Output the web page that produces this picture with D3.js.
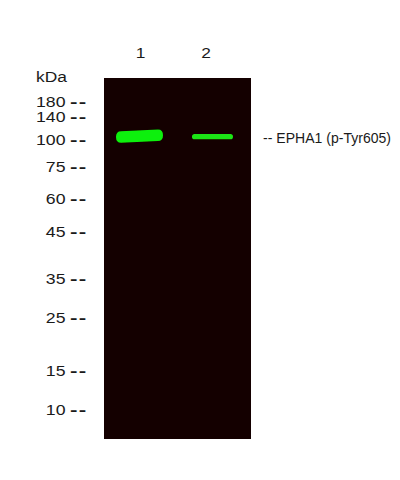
<!DOCTYPE html>
<html><head><meta charset="utf-8">
<script src="https://cdn.jsdelivr.net/npm/d3@7/dist/d3.min.js"></script>
<style>
html,body{margin:0;padding:0;background:#fff;}
svg{display:block;}
text{font-family:"Liberation Sans",Arial,sans-serif;fill:#1a1a1a;}
</style></head>
<body>
<svg id="c" width="400" height="480"></svg>
<script>
// ---- data ----
const markers = [180, 140, 100, 75, 60, 45, 35, 25, 15, 10];
const lanes = ["1", "2"];
const bandMW = [106, 105];
const bandIntensity = [1.0, 0.45];
const unitLabel = "kDa";
const targetLabel = "-- EPHA1 (p-Tyr605)";
const targetMW = 104;

const svg = d3.select("#c");

// migration scale (piecewise, calibrated to the marker ladder)
const y = d3.scaleLinear()
  .domain(markers)
  .range([101.5, 116.8, 139.5, 166, 198, 231, 278, 317, 370.5, 409]);

const gel = {x0: 104, x1: 251, y0: 78, y1: 439};

const laneX = d3.scalePoint().domain(lanes).range([139.5, 212.5]);
const labelX = d3.scalePoint().domain(lanes).range([140.5, 206]);
const thick = d3.scaleLinear().domain([0, 1]).range([0, 11.5]);
const wide = d3.scaleLinear().domain([0.45, 1]).range([41, 47]);

const defs = svg.append("defs");
defs.append("filter").attr("id", "blur").attr("x", "-20%").attr("y", "-100%").attr("width", "140%").attr("height", "300%")
  .append("feGaussianBlur").attr("stdDeviation", 0.7);

// gel
svg.append("rect").attr("x", gel.x0).attr("y", gel.y0)
  .attr("width", gel.x1 - gel.x0).attr("height", gel.y1 - gel.y0)
  .attr("fill", "#140000");

// bands
const bands = lanes.map((l, i) => ({lane: l, mw: bandMW[i], k: bandIntensity[i]}));
const g = svg.append("g").attr("filter", "url(#blur)");
bands.forEach((b, i) => {
  const cx = laneX(b.lane), cy = y(b.mw), w = wide(b.k), h = thick(b.k);
  const skew = i === 0 ? 0.8 : 0;
  const l = cx - w / 2, r = cx + w / 2;
  const p = d3.path();
  const rr = Math.min(h / 2, 5);
  p.moveTo(l + rr, cy - h / 2 + skew);
  p.lineTo(r - rr, cy - h / 2 - skew);
  p.quadraticCurveTo(r, cy - h / 2 - skew, r, cy - skew);
  p.quadraticCurveTo(r, cy + h / 2 - skew, r - rr, cy + h / 2 - skew);
  p.lineTo(l + rr, cy + h / 2 + skew);
  p.quadraticCurveTo(l, cy + h / 2 + skew, l, cy + skew);
  p.quadraticCurveTo(l, cy - h / 2 + skew, l + rr, cy - h / 2 + skew);
  p.closePath();
  g.append("path").attr("d", p.toString()).attr("fill", i === 0 ? "#0ef00a" : "#1be614");
});

// lane labels
svg.selectAll("g.lane").data(lanes).join("g")
  .attr("class", "lane")
  .attr("transform", d => `translate(${labelX(d)},57.5) scale(1.12,1)`)
  .append("text").attr("text-anchor", "middle").attr("font-size", 15.5)
  .text(d => d);

// unit label
svg.append("g").attr("transform", "translate(36,81.7) scale(1.12,1)")
  .append("text").attr("font-size", 15.5).text(unitLabel);

// marker labels
const mk = svg.selectAll("g.mk").data(markers).join("g").attr("class", "mk")
  .attr("transform", d => `translate(0,${y(d) + 5.5})`);
mk.append("g").attr("transform", "translate(65.5,0) scale(1.14,1)")
  .append("text").attr("text-anchor", "end").attr("font-size", 15.5)
  .text(d => d);
mk.append("g").attr("transform", "translate(70,0) scale(1.45,1)")
  .append("text").attr("font-size", 15.5).attr("font-weight", "bold")
  .attr("letter-spacing", 0.8).text("--");

// target label
svg.append("text").attr("x", 263).attr("y", y(targetMW) + 6).attr("font-size", 14)
  .attr("textLength", 128).text(targetLabel);
</script>
</body></html>
